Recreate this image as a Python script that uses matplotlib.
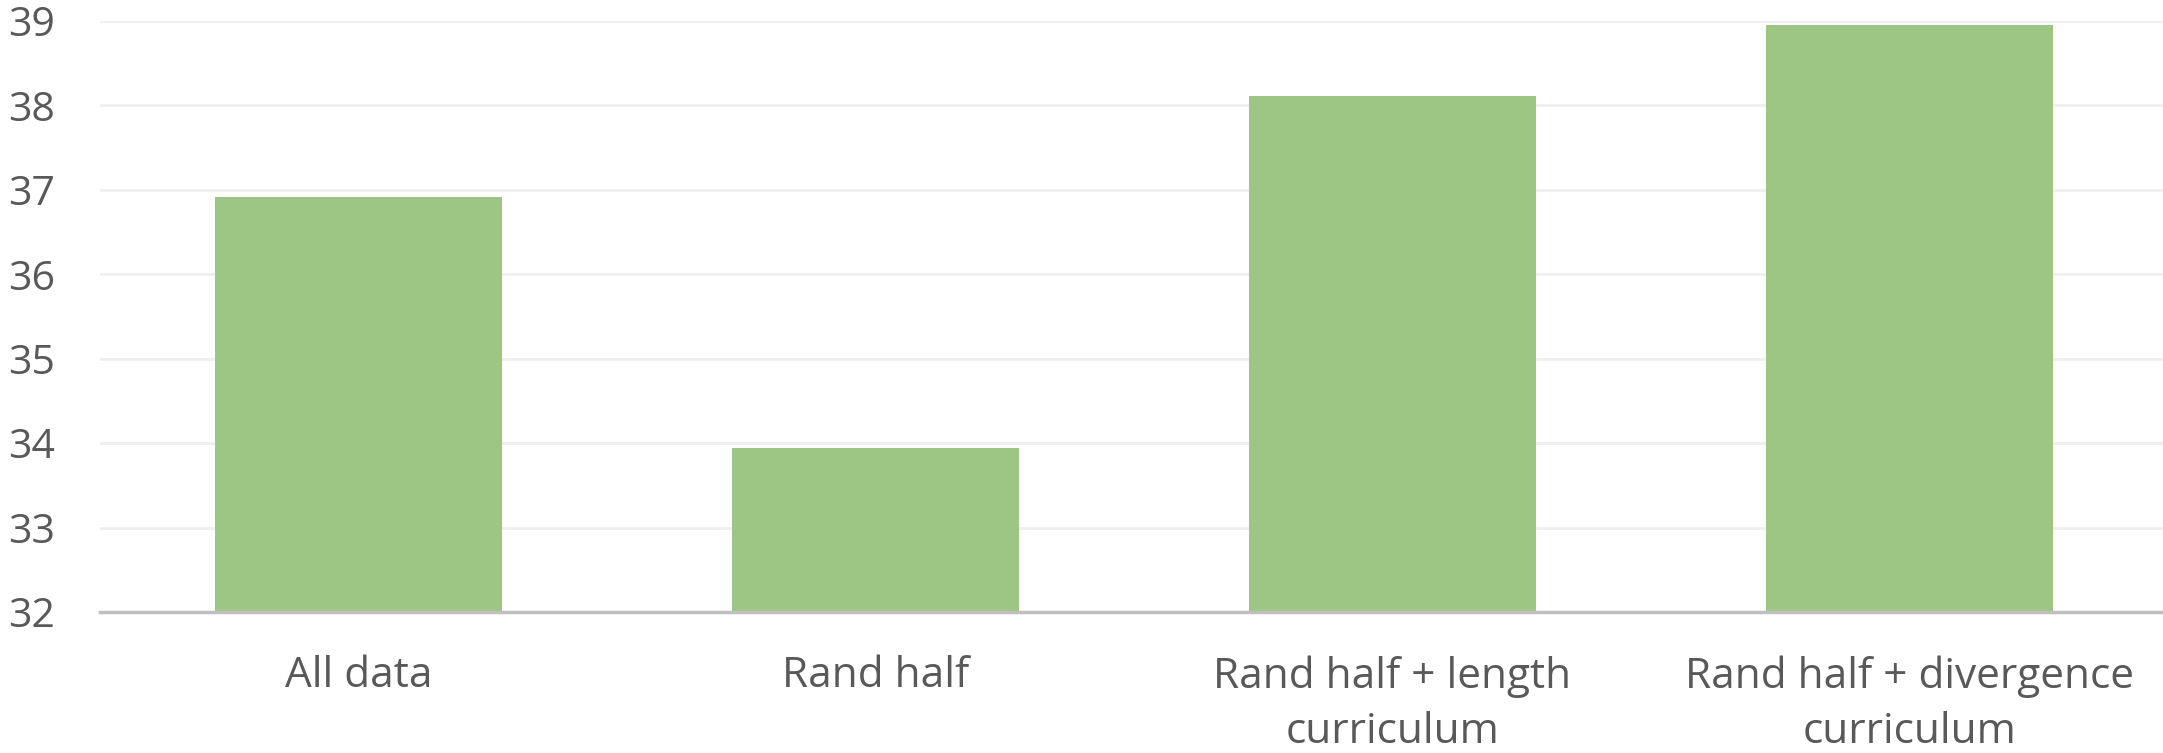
import matplotlib.pyplot as plt

categories = ["All data", "Rand half", "Rand half + length\ncurriculum",
              "Rand half + divergence\ncurriculum"]
values = [36.92, 33.94, 38.11, 38.95]
y_ticks = [32, 33, 34, 35, 36, 37, 38, 39]

plt.rcParams["font.family"] = ["Open Sans", "DejaVu Sans"]

fig = plt.figure(figsize=(21.63, 7.53), dpi=100)
ax = fig.add_axes([0.0462, 0.1873, 0.956, 0.7848])

ax.bar(range(len(categories)), values, width=0.555, color="#9DC583", zorder=2)

ax.set_xlim(-0.5, 3.5)
ax.set_ylim(32, 39)
ax.set_yticks(y_ticks)
ax.set_xticks(range(len(categories)))
ax.set_xticklabels(categories, linespacing=1.42)

ax.grid(axis="y", color="#EFEFEF", linewidth=2, zorder=0)
for side in ["top", "right", "left"]:
    ax.spines[side].set_visible(False)
ax.spines["bottom"].set_color("#BFBFBF")
ax.spines["bottom"].set_linewidth(2.5)
ax.spines["bottom"].set_zorder(3)

ax.tick_params(axis="both", length=0, labelsize=29.5, labelcolor="#595959")
ax.tick_params(axis="x", labelsize=30.5, pad=31)
ax.tick_params(axis="y", pad=32)

fig.savefig("out.png", dpi=100)
